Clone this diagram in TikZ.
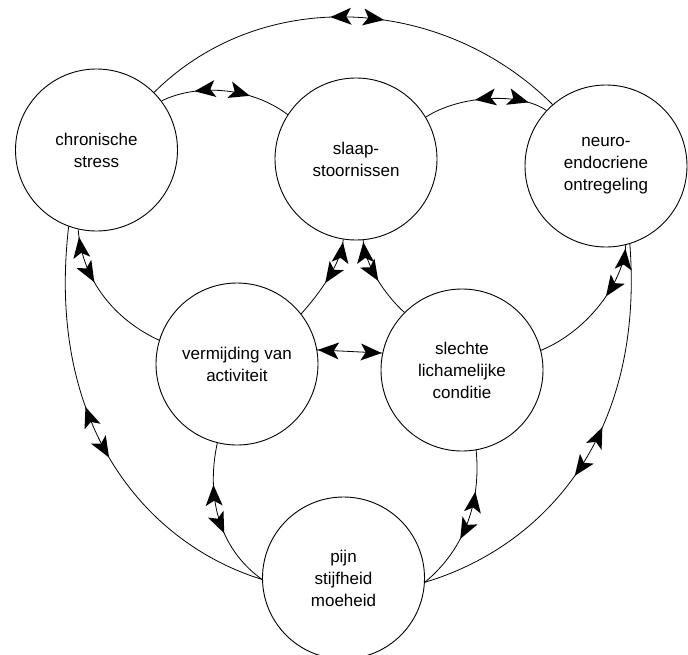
\documentclass[tikz,border=0pt]{standalone}
\usepackage{fontspec}
\setmainfont{Liberation Sans}
\usetikzlibrary{decorations.markings}
\begin{document}
\begin{tikzpicture}[x=1pt,y=-1pt,
  state/.style={circle,draw,line width=0.9pt,minimum size=162pt,inner sep=0pt,align=center,
    font=\fontsize{17}{22}\selectfont},
  link/.style={line width=0.8pt},
  bi/.style 2 args={postaction={decorate,decoration={markings,
    mark=at position {#1*\pgfdecoratedpathlength-#2pt} with {\fill[black] (0pt,0pt) -- (21pt,8.5pt) -- (16pt,0pt) -- (21pt,-8.5pt) -- cycle;},
    mark=at position {#1*\pgfdecoratedpathlength+#2pt} with {\fill[black] (0pt,0pt) -- (-21pt,8.5pt) -- (-16pt,0pt) -- (-21pt,-8.5pt) -- cycle;}}}}]
\fill[white] (0,0) rectangle (688,654);
\useasboundingbox (0,0) rectangle (688,654);

\node[state] (C) at (96.5,150) {chronische\\stress};
\node[state] (S) at (356,159) {slaap-\\stoornissen};
\node[state] (N) at (606,166) {neuro-\\endocriene\\ontregeling};
\node[state] (V) at (237,364) {vermijding van\\activiteit};
\node[state] (L) at (462,370) {slechte\\lichamelijke\\conditie};
\node[state] (P) at (343.5,578) {pijn\\stijfheid\\moeheid};

% top row
\draw[link,bi={0.505}{27}] (C.45) .. controls (263,-16) and (444,-4) .. (N.131);
\draw[link,bi={0.47}{28}] (C.37) .. controls (195,84) and (250,86) .. (S.147);
\draw[link,bi={0.63}{27}] (S.31) .. controls (460,95) and (520,92) .. (N.137);
% to the middle row
\draw[link,bi={0.22}{24}] (C.257) .. controls (82,280) and (115,320) .. (V.163);
\draw[link,bi={0.29}{22.5}] (S.261) .. controls (341,265) and (318,295) .. (V.38);
\draw[link,bi={0.27}{21}] (S.275) .. controls (365,265) and (385,295) .. (L.135);
\draw[link,bi={0.21}{26}] (N.284) .. controls (624,280) and (590,330) .. (L.14);
\draw[link,bi={0.5}{32}] (V.10) -- (L.168);
% to the bottom
\draw[link,bi={0.48}{28}] (C.250) .. controls (45,430) and (150,545) .. (P.181);
\draw[link,bi={0.44}{25}] (V.256) .. controls (206,495) and (218,548) .. (P.181);
\draw[link,bi={0.45}{25}] (L.280) .. controls (481,500) and (466,548) .. (P.357);
\draw[link,bi={0.5}{28}] (N.287) .. controls (645,440) and (540,548) .. (P.357);
\end{tikzpicture}
\end{document}
